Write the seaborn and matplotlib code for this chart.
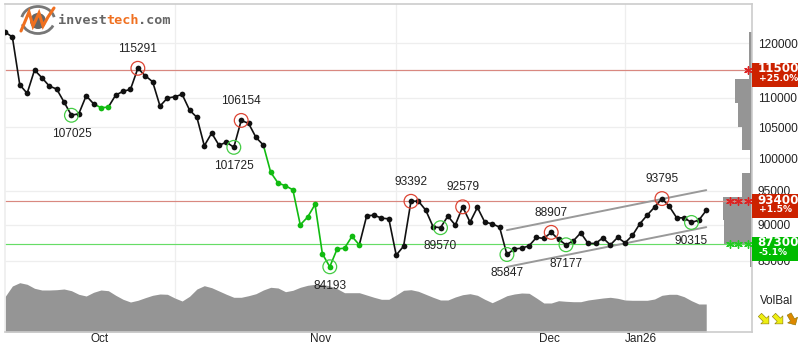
import numpy as np
import pandas as pd
import matplotlib
matplotlib.use('Agg')
import matplotlib.pyplot as plt
from matplotlib.patches import Rectangle, Ellipse, Arc, Polygon
from matplotlib.ticker import FixedLocator, NullFormatter
from matplotlib.transforms import Affine2D
import seaborn as sns

# closing prices, one per trading day
prices = [122110, 121146, 112326, 110806, 114973, 113580, 112095, 111563, 109289, 107025,
          107280, 110385, 108995, 108305, 108425, 110510, 111157, 111510, 115291, 113940,
          112861, 108598, 109984, 110210, 110629, 107912, 106670, 101976, 104048, 102041,
          102576, 101725, 106154, 105660, 103342, 102089, 97768, 96124, 95713, 95108,
          89977, 91080, 92932, 85927, 84193, 86611, 86707, 88337, 87169, 91267,
          91369, 90936, 90835, 85757, 86988, 93392, 93419, 92095, 89693, 89570,
          91224, 89935, 92579, 90360, 92489, 90360, 90118, 89650, 85847, 86611,
          86707, 87036, 88200, 88056, 88907, 87917, 87177, 87722, 88842, 87362,
          87362, 88138, 87150, 88200, 87445, 88476, 90118, 91369, 92534, 93795,
          92635, 90980, 90980, 90315, 90646, 92052]

# volume balance area under the price curve
volume = [35.3, 46, 49.3, 47.7, 43.7, 42, 42, 42.3, 43, 41.3,
          37.7, 36, 39.7, 42, 41.3, 36.7, 32.7, 30, 31.7, 34.3,
          36.7, 38, 37.7, 34, 31, 35.7, 43, 46.3, 44.3, 41,
          37.7, 34.7, 34.7, 36.3, 38.3, 42, 44.7, 44, 40.3, 41.7,
          44.7, 46.7, 47.7, 47.7, 46, 43.3, 39.3, 39.3, 39.3, 37,
          34.7, 32.7, 32.7, 37, 41.7, 42.3, 40.7, 37.7, 34.7, 32,
          32, 35, 37.3, 38.3, 36.7, 32.7, 29.3, 32.7, 36.3, 38,
          39, 38.7, 34, 29, 29, 31.3, 30.7, 30.3, 30.3, 32,
          33, 34, 34.7, 33.7, 32, 31.7, 31.7, 31.7, 33, 36.7,
          37.7, 37.7, 35.3, 31.3, 28, 28]

high_idx = [18, 32, 55, 62, 74, 89]
low_idx = [9, 31, 44, 59, 68, 76, 93]

green_runs = [(12, 14), (35, 48)]
black_runs = [(0, 12), (14, 35), (48, 95)]

channel_x = [68, 95]
channel_upper = [89222, 95059]
channel_lower = [84174, 89650]

y_ticks = [85000, 90000, 95000, 100000, 105000, 110000, 115000, 120000]
month_grid = [23, 53, 84]
month_pos = [12.75, 42.7, 73.8, 86.2]
month_labels = ['Oct', 'Nov', 'Dec', 'Jan26']

# volume by price histogram on the right edge
vol_edges = [122110, 117640, 113345, 109115, 105126, 101283, 97657, 94088, 90646, 87265, 84142]
vol_bins = [0.4, 0.4, 2.3, 1.9, 1.35, 0.27, 1.35, 3.9, 3.8, 0.27]

levels = [115000, 93400, 87300]
level_pct = ['+25.0%', '+1.5%', '-5.1%']
level_stars = [1, 3, 3]

RED = '#cc2200'
GREEN = '#00bb00'
LINE_RED = '#d98880'
LINE_GREEN = '#66dd66'
DARK = '#111111'
GREY = '#959595'
TXT = '#222222'
X_MAX = 101.2

sns.set_style('white')
plt.rcParams['font.family'] = ['Liberation Sans', 'DejaVu Sans']

df = pd.DataFrame({'day': np.arange(len(prices)), 'price': prices})

fig = plt.figure(figsize=(8.02, 3.52), dpi=100)
ax = fig.add_axes([5 / 802, 1 - 332 / 352, 747 / 802, 328 / 352])
ax_vol = ax.twinx()
ax.set_zorder(2)
ax_vol.set_zorder(1)
ax.patch.set_visible(False)

# month grid sits behind the volume area, one volume unit is one pixel high
for g in month_grid:
    ax_vol.axvline(g, color='#eeeeee', lw=0.9, zorder=0)
ax_vol.fill_between(df['day'], 0, volume, color=GREY, lw=0, zorder=1)
ax_vol.set_ylim(0, 328)
ax_vol.set_yticks([])
ax_vol.grid(False)
for s in ax_vol.spines.values():
    s.set_visible(False)

ax.set_yscale('log')
ax.set_ylim(75930, 127650)
ax.set_xlim(0, X_MAX)
ax.yaxis.set_major_locator(FixedLocator(y_ticks))
ax.yaxis.set_minor_locator(FixedLocator([]))
ax.yaxis.set_minor_formatter(NullFormatter())
ax.yaxis.tick_right()
ax.set_yticklabels([str(t) for t in y_ticks])
ax.tick_params(axis='y', length=0, pad=4.3, labelsize=8.6, labelcolor=TXT)
ax.set_xticks(month_grid)
ax.set_xticklabels([])
ax.set_xticks(month_pos, minor=True)
ax.set_xticklabels(month_labels, minor=True)
ax.tick_params(axis='x', which='both', length=0, labelsize=8.5, labelcolor=TXT, pad=1)
ax.grid(True, axis='y', which='major', color='#eeeeee', lw=0.9)
ax.grid(False, axis='x')
ax.set_axisbelow(True)
for side, col in [('top', '#cccccc'), ('right', '#cccccc'), ('bottom', '#cccccc'), ('left', '#eeeeee')]:
    ax.spines[side].set_color(col)
    ax.spines[side].set_linewidth(1.2)

# histogram
for i, w in enumerate(vol_bins):
    ax.barh(vol_edges[i + 1], -w, height=vol_edges[i] - vol_edges[i + 1], left=X_MAX,
            align='edge', color=GREY, lw=0, zorder=1.5)

# support and resistance levels
for lev, col in zip(levels, [LINE_RED, LINE_RED, LINE_GREEN]):
    ax.axhline(lev, color=col, lw=0.85, zorder=1.8)

# trend channel
ax.plot(channel_x, channel_upper, color='#999999', lw=1.4, zorder=2)
ax.plot(channel_x, channel_lower, color='#999999', lw=1.4, zorder=2)

# price line
for a, b in black_runs:
    sns.lineplot(data=df.iloc[a:b + 1], x='day', y='price', color=DARK, lw=1.2,
                 estimator=None, sort=False, ax=ax, zorder=3)
for a, b in green_runs:
    sns.lineplot(data=df.iloc[a:b + 1], x='day', y='price', color='#11bb11', lw=1.2,
                 estimator=None, sort=False, ax=ax, zorder=3)
is_green = np.zeros(len(df), dtype=bool)
for a, b in green_runs:
    is_green[a + 1:b + 1] = True
sns.scatterplot(data=df[~is_green], x='day', y='price', color=DARK, s=17, lw=0, ax=ax, zorder=4)
sns.scatterplot(data=df[is_green], x='day', y='price', color='#11bb11', s=17, lw=0, ax=ax, zorder=4)
ax.set_xlabel('')
ax.set_ylabel('')

# tops and bottoms
ax.scatter(df['day'][high_idx], df['price'][high_idx], s=98, facecolors='none',
           edgecolors='#dd4433', lw=0.9, zorder=5)
ax.scatter(df['day'][low_idx], df['price'][low_idx], s=98, facecolors='none',
           edgecolors='#44cc44', lw=0.9, zorder=5)
for i in high_idx:
    ax.annotate(str(prices[i]), (i, prices[i]), xytext=(0, 14), textcoords='offset points',
                ha='center', va='center', fontsize=8.6, color=TXT, zorder=6)
for i in low_idx:
    ax.annotate(str(prices[i]), (i, prices[i]), xytext=(0, -13.5), textcoords='offset points',
                ha='center', va='center', fontsize=8.6, color=TXT, zorder=6)

# level boxes with stars
trans = ax.get_yaxis_transform()
for lev, pct, n, col in zip(levels, level_pct, level_stars, [RED, RED, GREEN]):
    box = Rectangle((1, lev * 0.974), 46 / 747, lev * (1.011 - 0.974), transform=trans,
                    facecolor=col, lw=0, clip_on=False, zorder=7)
    ax.add_patch(box)
    t1 = ax.annotate(str(lev), (1, lev), xycoords=trans, xytext=(3.8, 0.8), textcoords='offset points',
                     ha='left', va='center', color='white', fontsize=8.6, fontweight='bold',
                     family='DejaVu Sans', zorder=8, annotation_clip=False)
    t2 = ax.annotate(pct, (1, lev), xycoords=trans, xytext=(5, -6.3), textcoords='offset points',
                     ha='left', va='center', color='white', fontsize=6.6, fontweight='bold',
                     family='DejaVu Sans', zorder=8, annotation_clip=False)
    t1.set_clip_path(box)
    t2.set_clip_path(box)
    star_x = [100.6, 99.3, 98.2][:n]
    star_col = '#dd2222' if col == RED else '#22cc22'
    ax.scatter(star_x, [lev] * n, marker=(6, 2, 0), s=30, color=star_col, lw=1, zorder=6)

# overlay in pixels for logo and legend
ov = fig.add_axes([0, 0, 1, 1], zorder=10)
ov.set_xlim(0, 802)
ov.set_ylim(352, 0)
ov.axis('off')

ov.add_patch(Arc((38, 20), 33, 27, theta1=190, theta2=350, color='#777777', lw=2))
ov.add_patch(Arc((38, 20), 33, 27, theta1=20, theta2=165, color='#777777', lw=2))
ov.add_patch(Ellipse((38, 21), 16, 16, color='#666666', lw=0))
ov.plot([21, 29, 33, 39, 43, 48, 54], [31, 12, 26, 13, 26, 17, 8], color='#f07020', lw=2.2,
        solid_joinstyle='miter')
for txt, x0, col in [('invest', 58, '#666666'), ('tech', 106, '#f07020'), ('.com', 138, '#666666')]:
    ov.text(x0, 20, txt, color=col, fontsize=9.7, fontweight='bold', family='DejaVu Sans Mono',
            ha='left', va='center')

ov.text(777, 301, 'VolBal', ha='center', va='center', fontsize=8.4, color=TXT)
arrow = 1.15 * np.array([[-5, -2], [1, -2], [1, -5], [6, 0], [1, 5], [1, 2], [-5, 2]], dtype=float)
for cx, ang, col in [(764, 45, '#eeee11'), (778, 45, '#eeee11'), (792, 60, '#dd8800')]:
    pts = Affine2D().rotate_deg(ang).translate(cx, 319).transform(arrow)
    ov.add_patch(Polygon(pts, closed=True, facecolor=col, edgecolor='#887700', lw=0.4))

fig.savefig('out.png', dpi=100)
